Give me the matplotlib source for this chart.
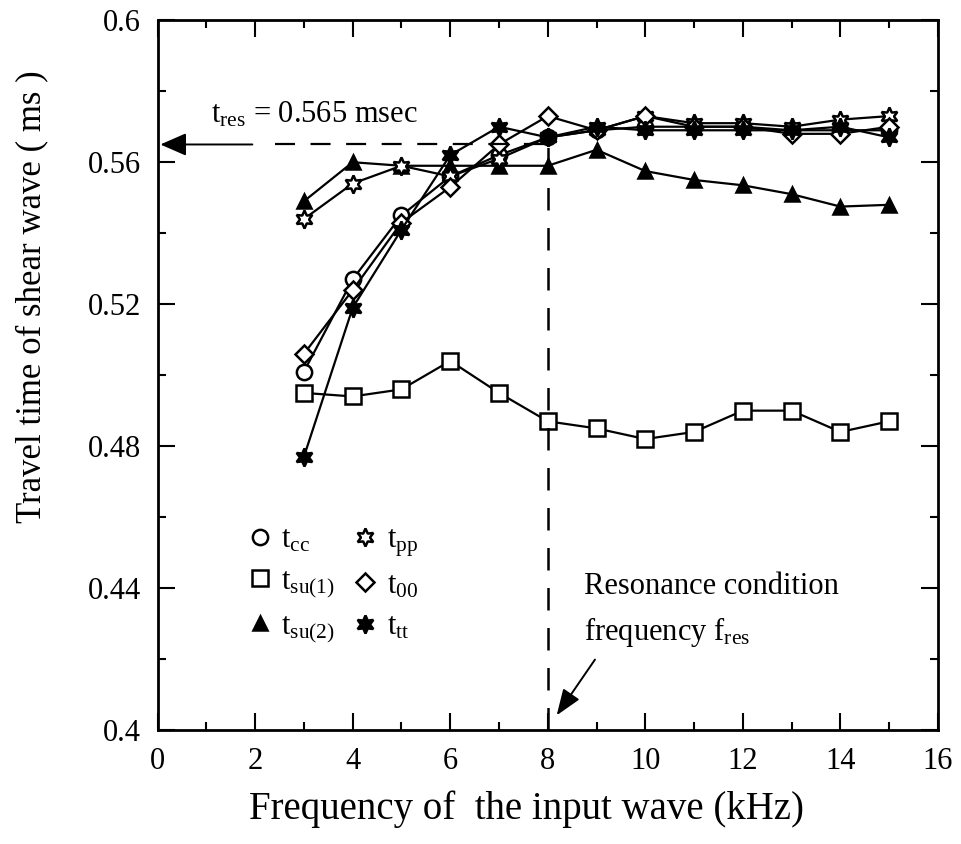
import matplotlib
matplotlib.use("Agg")
import matplotlib.pyplot as plt
from matplotlib.ticker import MultipleLocator

plt.rcParams['font.family'] = ['Liberation Serif', 'DejaVu Serif']
plt.rcParams['mathtext.fontset'] = 'custom'
plt.rcParams['mathtext.rm'] = 'Liberation Serif'

freq = [3, 4, 5, 6, 7, 8, 9, 10, 11, 12, 13, 14, 15]

t_cc = [0.501, 0.527, 0.545, 0.556, 0.562, 0.567, 0.569, 0.570, 0.570, 0.570, 0.569, 0.569, 0.569]
t_su1 = [0.495, 0.494, 0.496, 0.504, 0.495, 0.487, 0.485, 0.482, 0.484, 0.490, 0.490, 0.484, 0.487]
t_su2 = [0.549, 0.560, 0.559, 0.559, 0.559, 0.559, 0.5635, 0.5575, 0.555, 0.5535, 0.551, 0.5475, 0.548]
t_pp = [0.544, 0.554, 0.559, 0.556, 0.561, 0.567, 0.569, 0.573, 0.571, 0.571, 0.570, 0.572, 0.573]
t_00 = [0.506, 0.524, 0.543, 0.553, 0.565, 0.573, 0.569, 0.573, 0.570, 0.570, 0.568, 0.568, 0.570]
t_tt = [0.477, 0.519, 0.541, 0.562, 0.570, 0.567, 0.570, 0.569, 0.569, 0.569, 0.569, 0.570, 0.567]

t_res = 0.565
f_res = 8

fig = plt.figure(figsize=(9.61, 8.44), dpi=100)
ax = fig.add_axes([0.164, 0.135, 0.812, 0.841])

star = (6, 1, 0)
series = [
    (t_cc, 'o', 'white', 11, r'$\mathregular{t_{cc}}$'),
    (t_su1, 's', 'white', 11, r'$\mathregular{t_{su(1)}}$'),
    (t_su2, '^', 'black', 10, r'$\mathregular{t_{su(2)}}$'),
    (t_pp, star, 'white', 13, r'$\mathregular{t_{pp}}$'),
    (t_00, 'D', 'white', 9, r'$\mathregular{t_{00}}$'),
    (t_tt, star, 'black', 13, r'$\mathregular{t_{tt}}$'),
]
handles = []
for vals, mk, fc, ms, lab in series:
    ax.plot(freq, vals, color='black', lw=1.6, marker=mk, mfc=fc, mec='black',
            mew=1.8, ms=ms)
    h, = ax.plot([], [], ls='none', marker=mk, mfc=fc, mec='black', mew=1.8,
                 ms=ms, label=lab)
    handles.append(h)

# resonance travel time
ax.plot([2.4, f_res], [t_res, t_res], color='black', lw=1.6, dashes=(9, 7))
ax.annotate('', xy=(0, t_res), xytext=(2.0, t_res),
            arrowprops=dict(arrowstyle='-|>,head_length=0.8,head_width=0.35',
                            mutation_scale=20, color='black', lw=1.4))
ax.text(1.1, 0.5735, r'$\mathregular{t_{res}}$ = 0.565 msec', fontsize=22,
        va='center', ha='left')

# resonance frequency
ax.plot([f_res, f_res], [0.4, t_res], color='black', lw=1.8, dashes=(9, 7))
ax.text(8.75, 0.4405, 'Resonance condition', fontsize=22, va='center', ha='left')
ax.text(8.75, 0.4275, r'frequency $\mathregular{f_{res}}$', fontsize=22,
        va='center', ha='left')
ax.annotate('', xy=(f_res + 0.15, 0.4035), xytext=(9.0, 0.4205),
            arrowprops=dict(arrowstyle='-|>,head_length=0.8,head_width=0.3',
                            mutation_scale=20, color='black', lw=1.4))

ax.set_xlim(0, 16)
ax.set_ylim(0.4, 0.6)
ax.xaxis.set_major_locator(MultipleLocator(2))
ax.xaxis.set_minor_locator(MultipleLocator(1))
ax.yaxis.set_minor_locator(MultipleLocator(0.02))
ax.set_yticks([0.4, 0.44, 0.48, 0.52, 0.56, 0.6])
ax.set_yticklabels(['0.4', '0.44', '0.48', '0.52', '0.56', '0.6'])
ax.tick_params(which='both', direction='in', top=True, right=True, labelsize=22,
               width=1.5, pad=12)
ax.tick_params(which='major', length=12)
ax.tick_params(which='minor', length=6)
for s in ax.spines.values():
    s.set_linewidth(2)

ax.set_xlabel('Frequency of  the input wave (kHz)', fontsize=28)
ax.set_ylabel('Travel time of shear wave ( ms )', fontsize=25)
ax.xaxis.set_label_coords(0.473, -0.085)
ax.yaxis.set_label_coords(-0.14, 0.61)

ax.legend(handles=handles, ncol=2, frameon=False, loc='upper left',
          bbox_to_anchor=(0.08, 0.327), fontsize=22, handlelength=0.8,
          handletextpad=0.3, columnspacing=0.6, labelspacing=0.4)

fig.savefig('out.png', dpi=100)
